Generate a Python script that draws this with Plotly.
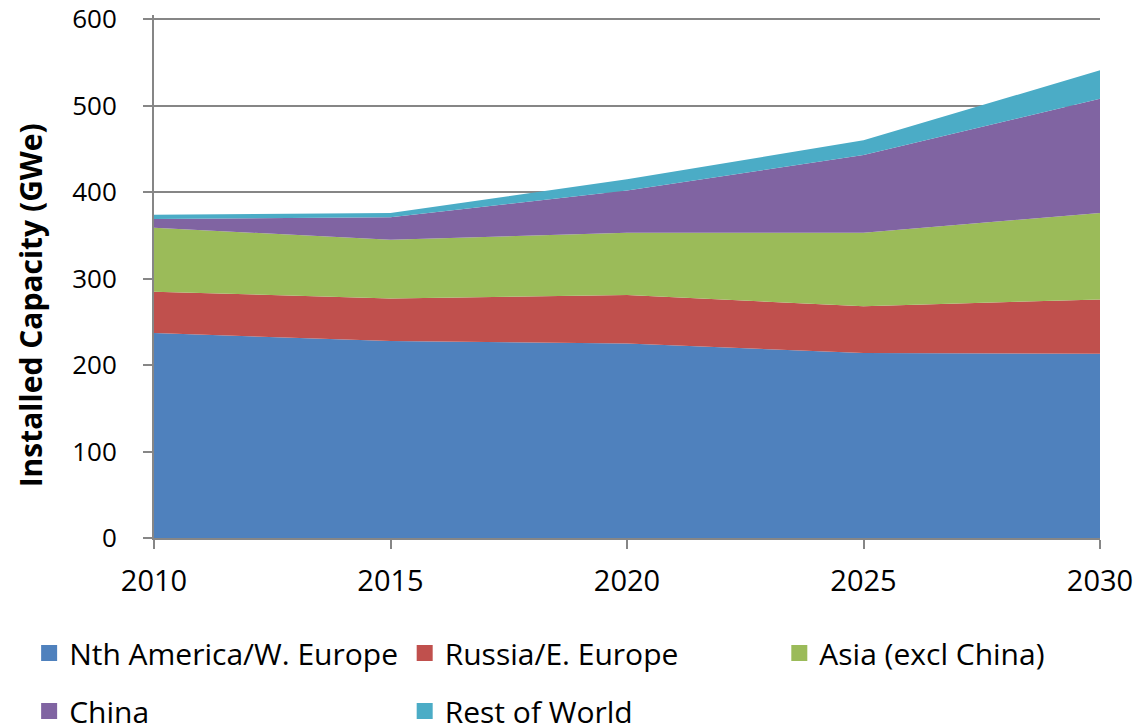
import plotly.graph_objects as go

years = [2010, 2015, 2020, 2025, 2030]
series_names = ["Nth America/W. Europe", "Russia/E. Europe", "Asia (excl China)", "China", "Rest of World"]
na_weurope = [237, 228, 225, 214, 213]
russia_eeurope = [48, 49, 56, 54, 63]
asia_excl_china = [74, 68, 72, 85, 100]
china = [10, 26, 49, 90, 132]
rest_of_world = [5, 5, 13, 17, 33]
colors = ["#4F81BD", "#C0504D", "#9BBB59", "#8064A2", "#4BACC6"]
y_ticks = [0, 100, 200, 300, 400, 500, 600]
x_ticks = [2010, 2015, 2020, 2025, 2030]
y_title = "Installed Capacity (GWe)"

values = [na_weurope, russia_eeurope, asia_excl_china, china, rest_of_world]
# legend columns: col1 = NA, China; col2 = Russia, RoW; col3 = Asia
legends = ["legend", "legend2", "legend3", "legend", "legend2"]

fig = go.Figure()
for name, vals, col in zip(series_names, values, colors):
    fig.add_trace(go.Scatter(
        x=years, y=vals, name=name, stackgroup="one", mode="lines",
        line=dict(width=0, color=col), fillcolor=col, showlegend=False,
    ))
# legend entries as square swatches
for i, (name, col, lg) in enumerate(zip(series_names, colors, legends)):
    fig.add_trace(go.Scatter(
        x=[None], y=[None], name=name, mode="markers", legendgroup=f"g{i}",
        marker=dict(symbol="square", size=18, color=col), legend=lg,
    ))

font_family = "Open Sans, Lato, DejaVu Sans, sans-serif"
grey = "#868686"
# plot area: 523px tall for 0..605 so that 0..600 spans 519px
leg_common = dict(orientation="v", yanchor="top", y=-0.170, xanchor="left",
                  traceorder="grouped", tracegroupgap=16,
                  font=dict(size=30), bgcolor="rgba(0,0,0,0)")
fig.update_layout(
    width=1137, height=726,
    margin=dict(l=154, r=37, t=15, b=188, autoexpand=False),
    plot_bgcolor="white", paper_bgcolor="white",
    font=dict(family=font_family, size=26, color="black"),
    xaxis=dict(range=[2010, 2030], tickvals=x_ticks, ticks="outside", ticklen=9,
               tickwidth=2, tickcolor=grey, showline=True, linecolor=grey,
               linewidth=2, showgrid=False, zeroline=False, ticklabelstandoff=7,
               tickfont=dict(size=29), automargin=False, ticklabeloverflow="allow"),
    yaxis=dict(range=[0, 605], tickvals=y_ticks, ticks="outside", ticklen=9,
               tickwidth=2, tickcolor=grey, showline=True, linecolor=grey,
               linewidth=2, showgrid=True, gridcolor=grey, gridwidth=2,
               zeroline=False, ticklabelstandoff=21, tickfont=dict(size=26),
               automargin=False, ticklabeloverflow="allow"),
    legend=dict(x=-0.132, **leg_common),
    legend2=dict(x=0.265, **leg_common),
    legend3=dict(x=0.661, **leg_common),
    showlegend=True,
    annotations=[dict(text=f"<b>{y_title}</b>", xref="paper", yref="paper",
                      x=-0.131, y=0.445, xanchor="center", yanchor="middle",
                      textangle=-90, showarrow=False, font=dict(size=30))],
)

fig.write_html("out.html", config={"displayModeBar": False},
               post_script="document.body.style.margin='0';document.body.style.overflow='hidden';")
